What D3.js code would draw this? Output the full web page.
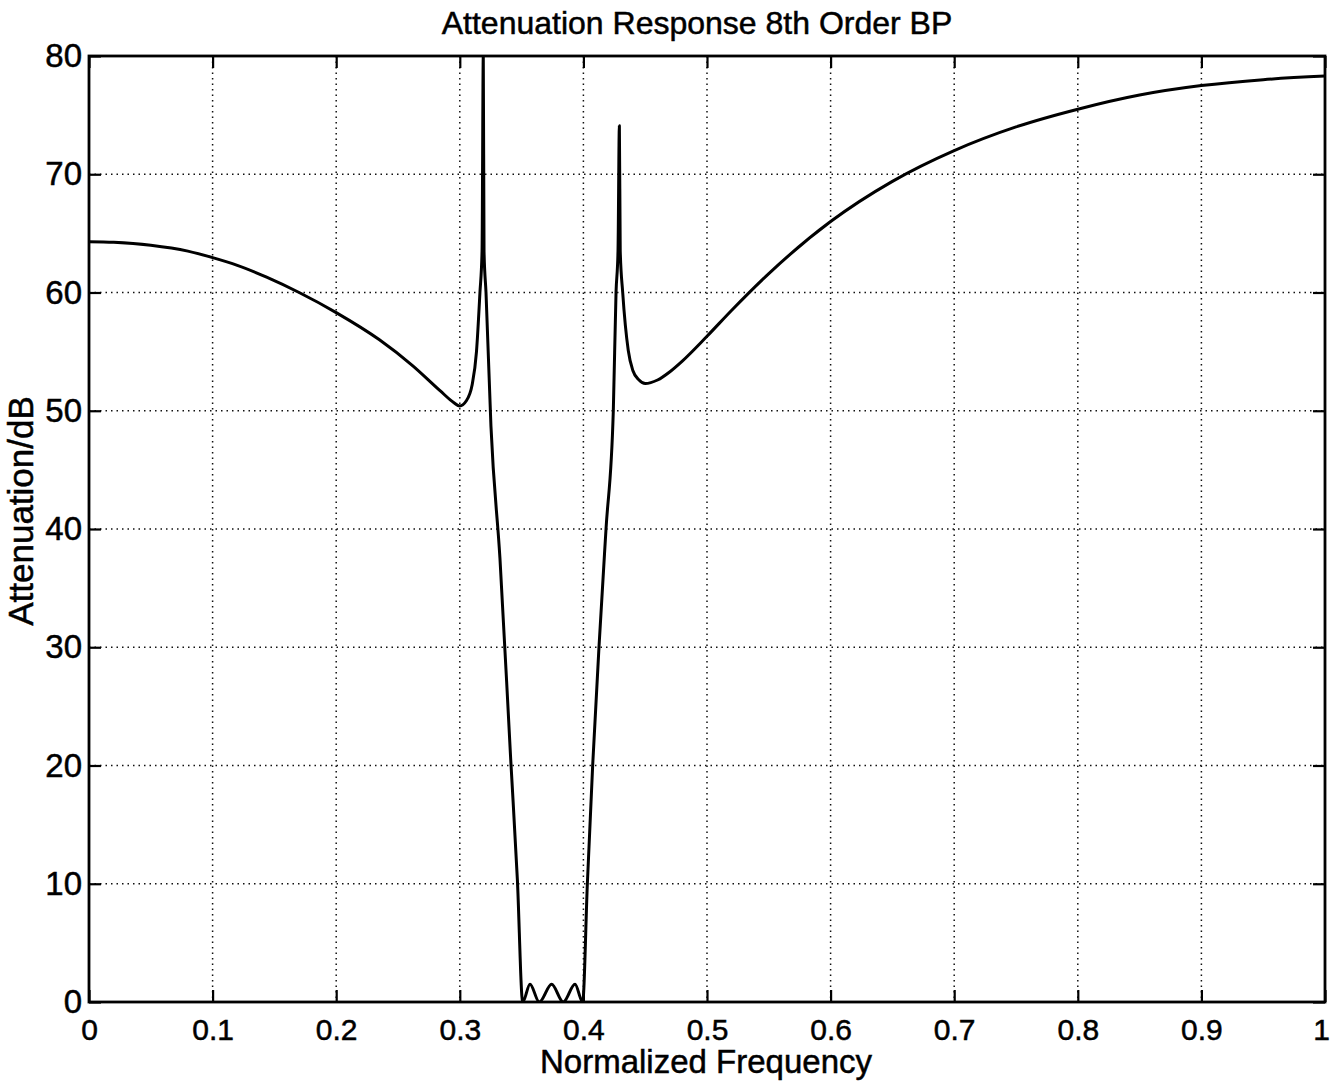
<!DOCTYPE html>
<html lang="en">
<head>
<meta charset="UTF-8" />
<title>Attenuation Response 8th Order BP</title>
<style>
  body { margin: 0; background: #fff; }
  svg text { font-family: "Liberation Sans", Arial, Helvetica, sans-serif; fill: #000; stroke: #000; stroke-width: 0.5px; }
</style>
</head>
<body>
<div class="chart"></div>
<script src="https://d3js.org/d3.v7.min.js"></script>
<script>
// normalized frequency / attenuation (dB)
const freq = [
  0, 0.02, 0.05, 0.08, 0.1, 0.12, 0.1437, 0.17, 0.2, 0.235, 0.262, 0.284, 0.295, 0.3,
  0.305, 0.31, 0.3135, 0.3163, 0.318, 0.319, 0.3196, 0.3212, 0.3252, 0.3325, 0.3412, 0.3466, 0.3509,
  0.3568, 0.3643, 0.3743, 0.3837, 0.3932, 0.3994,
  0.4032, 0.4075, 0.4126, 0.4183, 0.4242, 0.4264, 0.428, 0.4291, 0.4298, 0.4318, 0.4363, 0.44, 0.445, 0.45,
  0.46, 0.47, 0.48, 0.5, 0.52, 0.55, 0.6, 0.65, 0.7, 0.75, 0.8, 0.85, 0.9, 0.95, 1.0
];
const attenDb = [
  64.3, 64.25, 64.0, 63.5, 62.95, 62.3, 61.3, 60.0, 58.3, 56.0, 53.8, 51.7, 50.7, 50.4,
  50.8, 52.2, 55.0, 60.0, 63.5, 80.0, 63.5, 60.0, 48.7, 37.5, 20.5, 10.3, 0,
  1.5, 0, 1.5, 0, 1.5, 0,
  10.0, 20.0, 30.0, 40.0, 50.0, 60.0, 63.5, 74.1, 63.5, 60.0, 55.1, 53.4, 52.6, 52.3,
  52.6, 53.3, 54.2, 56.3, 58.5, 61.6, 66.0, 69.4, 72.0, 74.0, 75.5, 76.7, 77.5, 78.0, 78.3
];
const xTicks = [0, 0.1, 0.2, 0.3, 0.4, 0.5, 0.6, 0.7, 0.8, 0.9, 1];
const xTickLabels = ["0", "0.1", "0.2", "0.3", "0.4", "0.5", "0.6", "0.7", "0.8", "0.9", "1"];
const yTicks = [0, 10, 20, 30, 40, 50, 60, 70, 80];
const yTickLabels = ["0", "10", "20", "30", "40", "50", "60", "70", "80"];

const W = 1332, H = 1084;
const margin = {top: 56, right: 7, bottom: 82, left: 89};
const width = W - margin.left - margin.right,
      height = H - margin.top - margin.bottom;

const svg = d3.select(".chart")
  .append("svg")
    .attr("width", W)
    .attr("height", H);

const g = svg.append("g")
    .attr("transform", `translate(${margin.left}, ${margin.top})`);

const x = d3.scaleLinear().domain([0, 1]).range([0, width]);
const y = d3.scaleLinear().domain([0, 80]).range([height, 0]);

// dotted grid
g.append("g")
  .selectAll("line")
  .data(xTicks.slice(1, -1))
  .join("line")
    .attr("x1", d => x(d)).attr("x2", d => x(d))
    .attr("y1", 0).attr("y2", height)
    .attr("stroke", "#111")
    .attr("stroke-width", 1.5)
    .attr("stroke-dasharray", "1.5,4");

g.append("g")
  .selectAll("line")
  .data(yTicks.slice(1, -1))
  .join("line")
    .attr("y1", d => y(d)).attr("y2", d => y(d))
    .attr("x1", 0).attr("x2", width)
    .attr("stroke", "#111")
    .attr("stroke-width", 1.5)
    .attr("stroke-dasharray", "1.5,4");

// axes, ticks pointing inwards
const tickLen = 12;
const axBottom = g.append("g")
  .attr("transform", `translate(0, ${height})`)
  .call(d3.axisBottom(x).tickValues(xTicks).tickSize(-tickLen).tickPadding(17)
    .tickFormat((d, i) => xTickLabels[i]));
const axLeft = g.append("g")
  .call(d3.axisLeft(y).tickValues(yTicks).tickSize(-tickLen).tickPadding(7)
    .tickFormat((d, i) => yTickLabels[i]));
const axTop = g.append("g")
  .call(d3.axisTop(x).tickValues(xTicks).tickSize(-tickLen).tickFormat(""));
const axRight = g.append("g")
  .attr("transform", `translate(${width}, 0)`)
  .call(d3.axisRight(y).tickValues(yTicks).tickSize(-tickLen).tickFormat(""));

[axBottom, axLeft, axTop, axRight].forEach(a => {
  a.select(".domain").remove();
  a.selectAll(".tick line").attr("stroke", "#000").attr("stroke-width", 2.2);
});
axBottom.selectAll("text").style("font-size", "30px");
// last label sits on the page edge, nudge it in
axBottom.selectAll(".tick:last-of-type text").attr("dx", -4);
axLeft.selectAll("text").style("font-size", "33px");

// frame
g.append("rect")
  .attr("width", width).attr("height", height)
  .attr("fill", "none")
  .attr("stroke", "#000")
  .attr("stroke-width", 2.8);

// response curve
g.append("clipPath").attr("id", "plotClip")
  .append("rect").attr("width", width).attr("height", height);

const points = freq.map((f, i) => [f, attenDb[i]]);
g.append("path")
  .datum(points)
  .attr("clip-path", "url(#plotClip)")
  .attr("fill", "none")
  .attr("stroke", "#000")
  .attr("stroke-width", 3)
  .attr("stroke-linejoin", "round")
  .attr("d", d3.line()
    .x(d => x(d[0]))
    .y(d => y(d[1]))
    .curve(d3.curveMonotoneX));

// labels
svg.append("text")
  .attr("x", 697).attr("y", 34)
  .attr("text-anchor", "middle")
  .style("font-size", "32px")
  .text("Attenuation Response 8th Order BP");

svg.append("text")
  .attr("x", 706).attr("y", 1073)
  .attr("text-anchor", "middle")
  .style("font-size", "33px")
  .text("Normalized Frequency");

svg.append("text")
  .attr("transform", "translate(33, 511) rotate(-90)")
  .attr("text-anchor", "middle")
  .style("font-size", "35px")
  .text("Attenuation/dB");
</script>
</body>
</html>
